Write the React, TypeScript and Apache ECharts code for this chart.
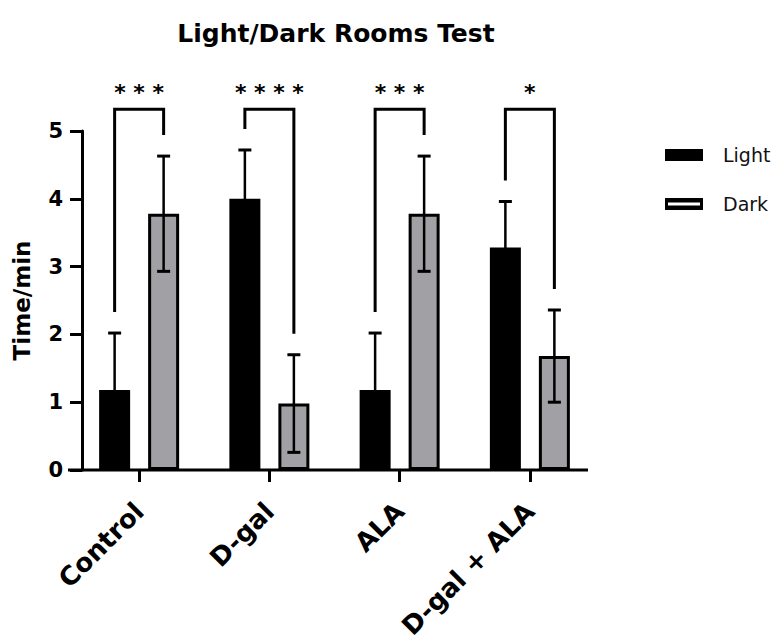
import React, { useEffect, useRef } from 'react';
import * as echarts from 'echarts';

const categories = ['Control', 'D-gal', 'ALA', 'D-gal + ALA'];
const lightMean = [1.18, 4.0, 1.18, 3.28];
const lightSD = [0.84, 0.72, 0.84, 0.68];
const darkMean = [3.78, 0.98, 3.78, 1.68];
const darkSD = [0.85, 0.72, 0.85, 0.68];
const significance = ['***', '****', '***', '*'];
const yMin = 0;
const yMax = 5;
const yStep = 1;

const FONT = '"DejaVu Sans", sans-serif';
const BAR_W = 31;
const BORDER = 3;
const BAR_SEP = 49; // centre-to-centre distance of the two bars in a group
const HALF = BAR_SEP / 2;
const BRACKET_TOP = 5.32;
const LEG_GAP = 0.31;
const GRAY = '#a1a1a5';

const LIGHT_ICON = 'path://M0 0L38 0L38 12L0 12Z';
const DARK_ICON = 'path://M0 0L38 0L38 12L0 12Z M3 4.5L3 7.5L35 7.5L35 4.5Z';

const fmtStars = (s: string) => s.split('').join(' ');

export default function App() {
  const ref = useRef<HTMLDivElement>(null);
  useEffect(() => {
    document.body.style.margin = '0';
    const chart = echarts.init(ref.current!, undefined, { renderer: 'svg' });

    const errData: number[][] = [];
    categories.forEach((_, i) => {
      errData.push([i, 0, lightMean[i], lightSD[i]]);
      errData.push([i, 1, darkMean[i], darkSD[i]]);
    });
    const brData = categories.map((_, i) => [
      i,
      lightMean[i] + lightSD[i] + LEG_GAP,
      darkMean[i] + darkSD[i] + LEG_GAP,
    ]);

    chart.setOption({
      animation: false,
      grid: {
        left: 74,
        right: 179,
        top: 131,
        bottom: 171,
        containLabel: false,
        outerBoundsMode: 'none',
      },
      graphic: [
        {
          type: 'text',
          x: 336,
          y: 33,
          style: {
            text: 'Light/Dark Rooms Test',
            font: `bold 25px ${FONT}`,
            fill: '#000',
            textAlign: 'center',
            textVerticalAlign: 'middle',
          },
        },
        {
          type: 'line',
          shape: { x1: 68, y1: 470, x2: 588, y2: 470 },
          style: { stroke: '#000', lineWidth: 3 },
          z: 10,
        },
      ],
      legend: {
        orient: 'vertical',
        left: 660,
        top: 140,
        itemWidth: 38,
        itemHeight: 12,
        itemGap: 29,
        textStyle: {
          fontFamily: FONT,
          fontSize: 19,
          lineHeight: 20,
          color: '#111',
          padding: [0, 0, 0, 15],
        },
        data: [
          { name: 'Light', icon: LIGHT_ICON, itemStyle: { color: '#000', borderWidth: 0 } },
          { name: 'Dark', icon: DARK_ICON, itemStyle: { color: '#000', borderWidth: 0 } },
        ],
      },
      xAxis: {
        type: 'category',
        data: categories,
        axisLine: { show: false },
        axisTick: {
          show: true,
          alignWithLabel: true,
          length: 12,
          lineStyle: { color: '#000', width: 3 },
        },
        axisLabel: {
          rotate: 45,
          interval: 0,
          margin: 37,
          fontFamily: FONT,
          fontWeight: 'bold',
          fontSize: 26,
          color: '#000',
        },
      },
      yAxis: {
        type: 'value',
        min: yMin,
        max: yMax,
        interval: yStep,
        offset: -8,
        axisLine: { show: true, lineStyle: { color: '#000', width: 3 } },
        axisTick: { show: true, length: 12, lineStyle: { color: '#000', width: 3 } },
        splitLine: { show: false },
        axisLabel: {
          margin: 19,
          fontFamily: FONT,
          fontWeight: 'bold',
          fontSize: 21,
          color: '#000',
        },
        name: 'Time/min',
        nameLocation: 'middle',
        nameRotate: 90,
        nameGap: 49,
        nameTextStyle: {
          fontFamily: FONT,
          fontWeight: 'bold',
          fontSize: 23,
          color: '#000',
        },
      },
      series: [
        {
          name: 'Light',
          type: 'bar',
          data: lightMean,
          barWidth: BAR_W,
          barGap: `${(BAR_SEP / BAR_W - 1) * 100}%`,
          itemStyle: { color: '#000', borderColor: '#000', borderWidth: BORDER },
        },
        {
          name: 'Dark',
          type: 'bar',
          data: darkMean,
          barWidth: BAR_W,
          itemStyle: { color: GRAY, borderColor: '#000', borderWidth: BORDER },
        },
        {
          type: 'custom',
          name: 'err',
          z: 5,
          clip: false,
          data: errData,
          renderItem: (params: any, api: any) => {
            const cat = api.value(0);
            const s = api.value(1);
            const mean = api.value(2);
            const sd = api.value(3);
            const c = api.coord([cat, mean]);
            const x = c[0] + (s === 0 ? -HALF : HALF);
            const top = api.coord([cat, mean + sd])[1];
            const bot = api.coord([cat, mean - sd])[1];
            const st = { stroke: '#000', lineWidth: 2.5 };
            return {
              type: 'group',
              children: [
                { type: 'line', shape: { x1: x, y1: top, x2: x, y2: bot }, style: st },
                { type: 'line', shape: { x1: x - 6.5, y1: top, x2: x + 6.5, y2: top }, style: { stroke: '#000', lineWidth: 3 } },
                { type: 'line', shape: { x1: x - 6.5, y1: bot, x2: x + 6.5, y2: bot }, style: { stroke: '#000', lineWidth: 3 } },
              ],
            };
          },
        },
        {
          type: 'custom',
          name: 'sig',
          z: 5,
          clip: false,
          data: brData,
          renderItem: (params: any, api: any) => {
            const cat = api.value(0);
            const lBot = api.value(1);
            const rBot = api.value(2);
            const c = api.coord([cat, BRACKET_TOP]);
            const xl = c[0] - HALF;
            const xr = c[0] + HALF;
            const yt = c[1];
            const yl = api.coord([cat, lBot])[1];
            const yr = api.coord([cat, rBot])[1];
            return {
              type: 'group',
              children: [
                {
                  type: 'polyline',
                  shape: { points: [[xl, yl], [xl, yt], [xr, yt], [xr, yr]] },
                  style: { stroke: '#000', lineWidth: 3, fill: 'none' },
                },
                {
                  type: 'text',
                  style: {
                    x: c[0],
                    y: yt - 17,
                    text: fmtStars(significance[params.dataIndex]),
                    font: `bold 22px ${FONT}`,
                    fill: '#000',
                    textAlign: 'center',
                    textVerticalAlign: 'middle',
                  },
                },
              ],
            };
          },
        },
      ],
    });
    return () => chart.dispose();
  }, []);
  return <div ref={ref} style={{ width: 774, height: 641 }} />;
}
